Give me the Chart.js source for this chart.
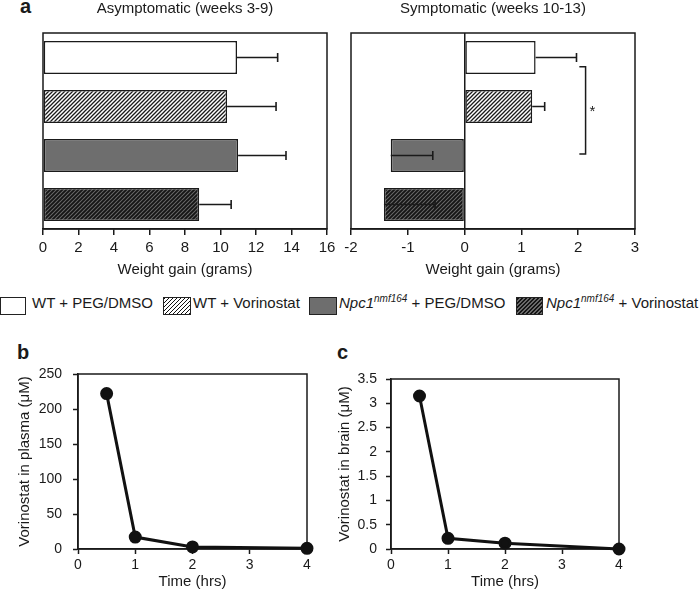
<!DOCTYPE html>
<html><head><meta charset="utf-8">
<script src="https://cdn.jsdelivr.net/npm/chart.js@4/dist/chart.umd.min.js"></script>
<style>
html,body{margin:0;padding:0;background:#fff;}
#wrap{position:relative;width:700px;height:596px;overflow:hidden;font-family:"Liberation Sans",Arial,sans-serif;color:#1a1a1a;background:#fff;}
.pane{position:absolute;}
.pane canvas{display:block;}
.letter{position:absolute;font-weight:bold;font-size:20px;line-height:20px;}
.lg-box{position:absolute;top:297px;height:18px;box-sizing:border-box;border:1.5px solid #222;}
.lg-txt{position:absolute;top:294px;font-size:15px;line-height:18px;white-space:nowrap;}
.lg-txt sup{font-size:10px;line-height:0;vertical-align:6px;}
</style></head><body>
<div id="wrap">
  <div class="letter" style="left:20px;top:-4px">a</div>
  <div class="letter" style="left:17px;top:342px">b</div>
  <div class="letter" style="left:337px;top:342px">c</div>
  <div class="pane" style="left:0;top:0"><canvas id="cA1" width="340" height="285"></canvas></div>
  <div class="pane" style="left:340px;top:0"><canvas id="cA2" width="360" height="285"></canvas></div>
  <div class="pane" style="left:0;top:330px"><canvas id="cB" width="325" height="266"></canvas></div>
  <div class="pane" style="left:325px;top:330px"><canvas id="cC" width="375" height="266"></canvas></div>
  <div id="legend"></div>
</div>
<script>
// ---- data ----
const groups = ['WT + PEG/DMSO', 'WT + Vorinostat', 'Npc1nmf164 + PEG/DMSO', 'Npc1nmf164 + Vorinostat'];
const asymMean = [10.93, 10.37, 10.99, 8.80];
const asymErr  = [2.29, 2.76, 2.70, 1.80];
const sympMean = [1.25, 1.19, -1.30, -1.42];
const sympErr  = [0.72, 0.22, 0.74, 0.90];
const timeHrs  = [0.5, 1, 2, 4];
const plasma   = [222, 17, 3, 1];
const brain    = [3.15, 0.22, 0.12, 0.0];

const FONT = '"Liberation Sans", Arial, sans-serif';
const TXT = '#1a1a1a';
const LINE = '#1a1a1a';

function hatch(bg, fg, lw){
  const c=document.createElement('canvas'); c.width=4; c.height=4;
  const x=c.getContext('2d'); x.fillStyle=bg; x.fillRect(0,0,4,4);
  x.strokeStyle=fg; x.lineWidth=lw; x.beginPath();
  x.moveTo(-1,1); x.lineTo(1,-1); x.moveTo(0,4); x.lineTo(4,0); x.moveTo(3,5); x.lineTo(5,3); x.stroke();
  return x.createPattern(c,'repeat');
}
function fills(){
  return ['#ffffff', hatch('#ffffff','#1a1a1a',1.3), '#6e6e6e', hatch('#6a6a6a','#151515',1.9)];
}

// ---- legend (HTML) ----
const legendItems = [
  {box:[0,26], txt:32, bg:'#fff', html:'WT + PEG/DMSO'},
  {box:[163,28], txt:193, bg:'repeating-linear-gradient(135deg,#111 0 1.1px,#fff 1.1px 2.83px)', html:'WT + Vorinostat'},
  {box:[309,28], txt:339, bg:'#6e6e6e', html:'<i>Npc1<sup>nmf164</sup></i> + PEG/DMSO'},
  {box:[516,27], txt:546, bg:'repeating-linear-gradient(135deg,#151515 0 1.5px,#6a6a6a 1.5px 2.83px)', html:'<i>Npc1<sup>nmf164</sup></i> + Vorinostat'}
];
const lg = document.getElementById('legend');
legendItems.forEach(it=>{
  const b=document.createElement('div'); b.className='lg-box';
  b.style.left=it.box[0]+'px'; b.style.width=it.box[1]+'px'; b.style.background=it.bg; lg.appendChild(b);
  const t=document.createElement('div'); t.className='lg-txt'; t.style.left=it.txt+'px'; t.innerHTML=it.html; lg.appendChild(t);
});

// ---- plugins ----
const framePlugin = {
  id:'frame',
  beforeDatasetsDraw(chart){
    const a=chart.chartArea, ctx=chart.ctx;
    ctx.save(); ctx.strokeStyle=LINE; ctx.lineWidth=1.5;
    ctx.strokeRect(a.left, a.top, a.right-a.left, a.bottom-a.top);
    ctx.restore();
  }
};
const errPlugin = {
  id:'err',
  afterDatasetsDraw(chart){
    const ctx=chart.ctx, xs=chart.scales.x, ds=chart.data.datasets[0];
    const meta=chart.getDatasetMeta(0);
    ctx.save(); ctx.strokeStyle=LINE; ctx.lineWidth=1.6;
    meta.data.forEach((bar,i)=>{
      const x0=xs.getPixelForValue(ds.data[i]), x1=xs.getPixelForValue(ds.data[i]+ds.errPlus[i]), y=bar.y;
      ctx.beginPath(); ctx.moveTo(x0,y); ctx.lineTo(x1,y);
      ctx.moveTo(x1,y-4.5); ctx.lineTo(x1,y+4.5); ctx.stroke();
    });
    ctx.restore();
  }
};
// significance bracket between group 0 and group 2 in the symptomatic panel
const bracketX = 2.13, bracketTickX = 2.02, bracketFrom = 0.19, bracketTo = 1.97, starX = 2.25, starY = 1.05;
const bracketPlugin = {
  id:'bracket',
  afterDatasetsDraw(chart){
    const ctx=chart.ctx, xs=chart.scales.x, ys=chart.scales.y;
    const x=xs.getPixelForValue(bracketX), xt=xs.getPixelForValue(bracketTickX);
    const y0=ys.getPixelForValue(bracketFrom), y1=ys.getPixelForValue(bracketTo);
    ctx.save(); ctx.strokeStyle=LINE; ctx.lineWidth=1.5;
    ctx.beginPath(); ctx.moveTo(xt,y0); ctx.lineTo(x,y0); ctx.lineTo(x,y1); ctx.lineTo(xt,y1); ctx.stroke();
    ctx.fillStyle=TXT; ctx.font='15px '+FONT; ctx.textAlign='center'; ctx.textBaseline='middle';
    ctx.fillText('*', xs.getPixelForValue(starX), ys.getPixelForValue(starY)+3);
    ctx.restore();
  }
};

function barChart(id, title, values, errs, xmin, xmax, pad, zeroLine, extra){
  return new Chart(document.getElementById(id), {
    type:'bar',
    data:{labels:groups, datasets:[{data:values, errPlus:errs, backgroundColor:fills(), borderColor:LINE, borderWidth:1.5, borderSkipped:false, barPercentage:0.67, categoryPercentage:1}]},
    options:{
      indexAxis:'y', responsive:false, animation:false, devicePixelRatio:1,
      layout:{padding:pad},
      plugins:{legend:{display:false}, tooltip:{enabled:false},
        title:{display:true, text:title, color:TXT, font:{family:FONT,size:15,weight:'normal'}, padding:{top:0,bottom:15}}},
      scales:{
        y:{display:false},
        x:{min:xmin, max:xmax,
          ticks:{stepSize:xmin<0?1:2, color:TXT, font:{family:FONT,size:15}, padding:4, maxRotation:0},
          grid:{drawOnChartArea:zeroLine, color:(c)=> (c.tick && c.tick.value===0) ? LINE : 'rgba(0,0,0,0)', lineWidth:1.5, tickLength:6, tickColor:LINE, tickWidth:1.5},
          border:{display:true, color:LINE, width:1.5},
          title:{display:true, text:'Weight gain (grams)', color:TXT, font:{family:FONT,size:15}, padding:{top:0,bottom:6}},
          afterFit(s){ s.height=56; }
        }
      }
    },
    plugins:[framePlugin, errPlugin].concat(extra||[])
  });
}
barChart('cA1','Asymptomatic (weeks 3-9)', asymMean, asymErr, 0, 16, {left:43,right:13,top:0,bottom:0}, false);
barChart('cA2','Symptomatic (weeks 10-13)', sympMean, sympErr, -2, 3, {left:11,right:65,top:0,bottom:0}, true, [bracketPlugin]);

const plainNum = (v)=> String(Math.round(v*100)/100);

function lineChart(id, ys, ymax, ystep, ytitle, pad, yW, yPad){
  return new Chart(document.getElementById(id), {
    type:'line',
    data:{datasets:[{data:timeHrs.map((t,i)=>({x:t,y:ys[i]})), borderColor:'#111', borderWidth:3, pointRadius:5, pointBackgroundColor:'#111', pointBorderColor:'#111', tension:0, clip:false}]},
    options:{
      responsive:false, animation:false, devicePixelRatio:1,
      layout:{padding:pad},
      plugins:{legend:{display:false}, tooltip:{enabled:false}},
      scales:{
        x:{type:'linear', min:0, max:4,
          ticks:{stepSize:1, color:TXT, font:{family:FONT,size:14}, padding:3, maxRotation:0, callback:plainNum},
          grid:{drawOnChartArea:false, tickLength:5, tickColor:LINE, tickWidth:1.5},
          border:{display:true,color:LINE,width:1.5},
          title:{display:true, text:'Time (hrs)', color:TXT, font:{family:FONT,size:15}, padding:{top:0,bottom:5}},
          afterFit(s){ s.height=47; }
        },
        y:{type:'linear', min:0, max:ymax,
          ticks:{stepSize:ystep, color:TXT, font:{family:FONT,size:14}, padding:yPad, callback:plainNum},
          grid:{drawOnChartArea:false, tickLength:5, tickColor:LINE, tickWidth:1.5},
          border:{display:true,color:LINE,width:1.5},
          title:{display:true, text:ytitle, color:TXT, font:{family:FONT,size:15}, padding:{top:0,bottom:0}},
          afterFit(s){ s.width=yW; }
        }
      }
    },
    plugins:[framePlugin]
  });
}
lineChart('cB', plasma, 250, 50, 'Vorinostat in plasma (\u03bcM)', {left:16,right:18,top:44,bottom:0}, 62, 11);
lineChart('cC', brain, 3.5, 0.5, 'Vorinostat in brain (\u03bcM)', {left:11,right:81,top:49,bottom:0}, 55, 9);
</script>
</body></html>
